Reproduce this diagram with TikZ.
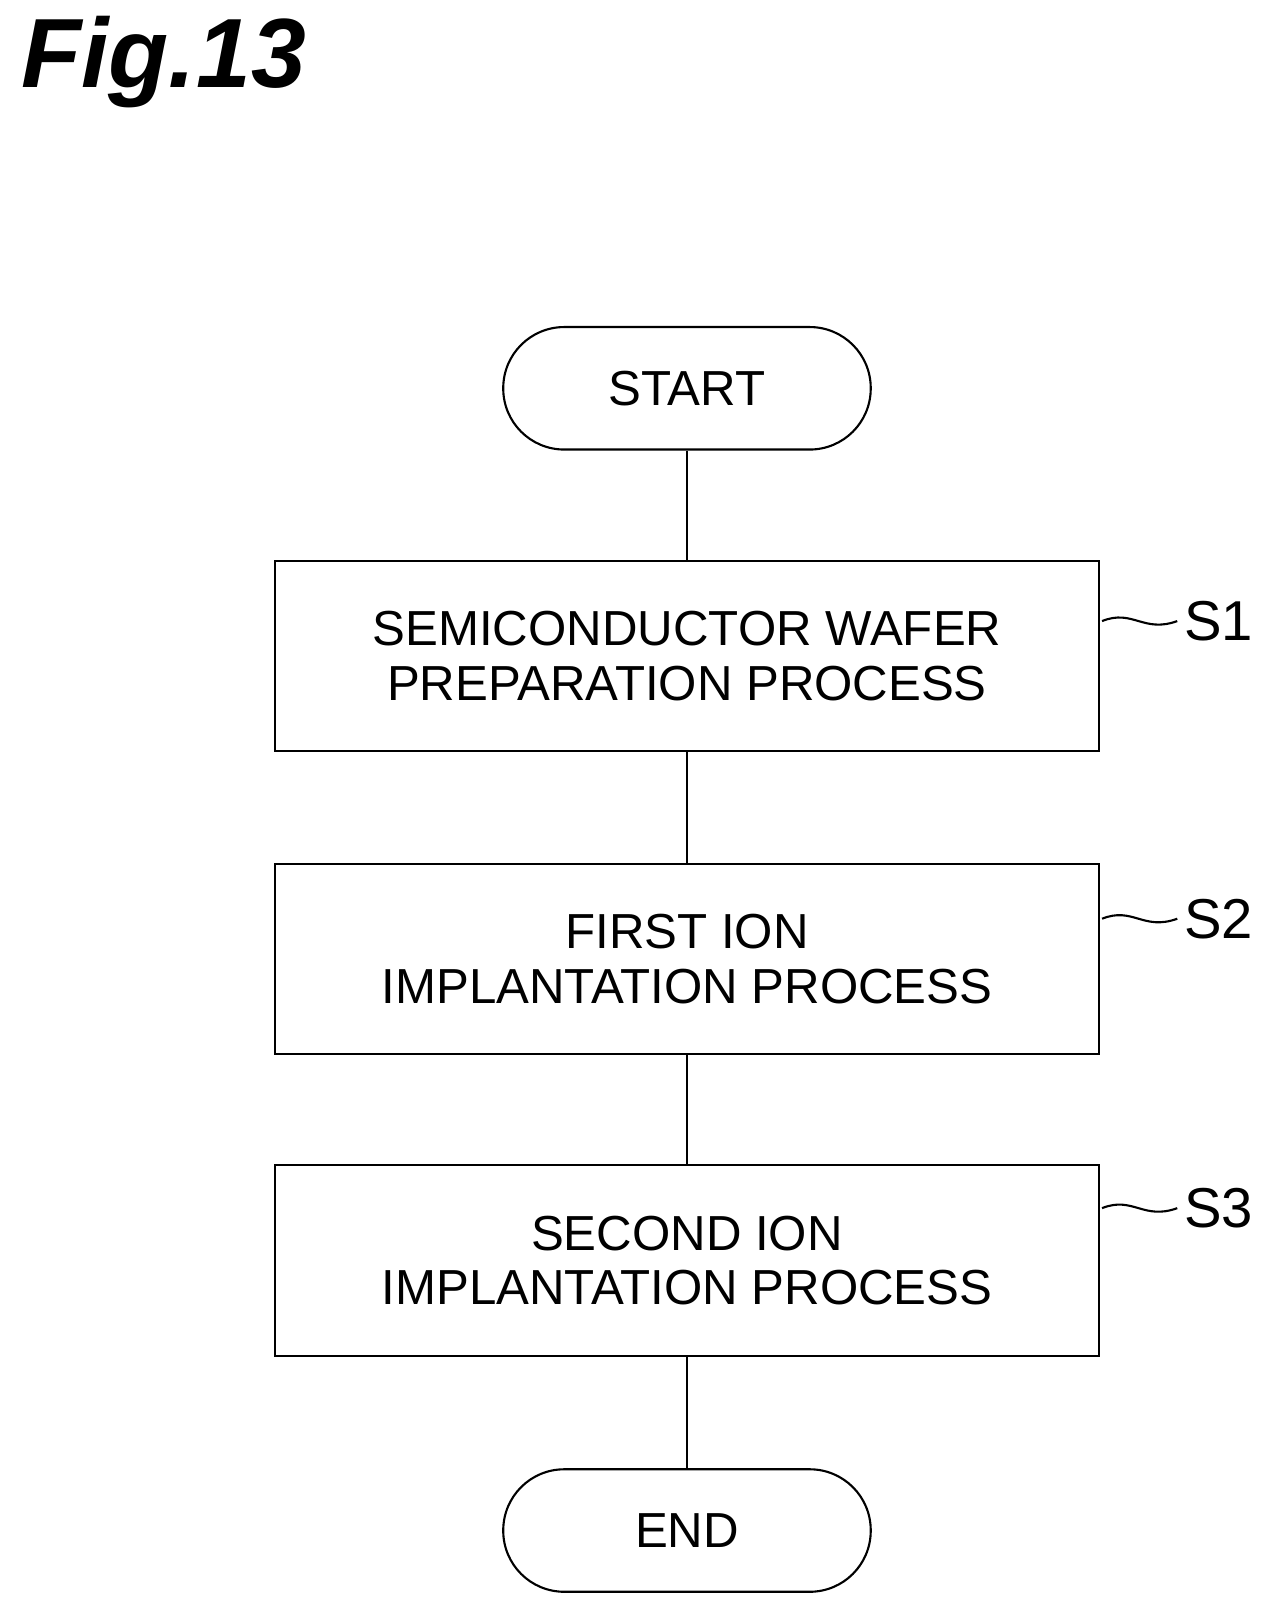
\documentclass[tikz,border=0pt]{standalone}
\usepackage{fontspec}
\setmainfont{Liberation Sans}
\usetikzlibrary{positioning}
\begin{document}
\begin{tikzpicture}[x=0.0206cm,y=-0.0206cm,-,line width=1.2pt]
\useasboundingbox (0,0) rectangle (1238,1569);

\tikzset{process/.style={draw,minimum width=16.48cm,minimum height=3.81cm,align=center,
  font=\fontsize{28}{31}\selectfont},
  term/.style={draw,rounded corners=1.22cm,minimum width=7.35cm,minimum height=2.45cm,
  font=\fontsize{28}{32}\selectfont},
  tag/.style={font=\fontsize{32}{36}\selectfont}}

\node[font=\fontsize{56}{60}\selectfont\bfseries\itshape,anchor=west] (fig) at (14,60) {Fig.13};

\node[term] (start) at (667,377) {START};
\node[process] (s1) at (667,637) {SEMICONDUCTOR WAFER\\PREPARATION PROCESS};
\node[process] (s2) at (667,931) {FIRST ION\\IMPLANTATION PROCESS};
\node[process] (s3) at (667,1224) {SECOND ION\\IMPLANTATION PROCESS};
\node[term] (end) at (667,1486) {END};

\draw (start) -- (s1);
\draw (s1) -- (s2);
\draw (s2) -- (s3);
\draw (s3) -- (end);

% step labels
\foreach \s/\y in {1/603,2/892,3/1173}{
  \node[tag,anchor=west] (t\s) at (1143,\y) {S\s};
  \draw (1070,\y) .. controls (1100,\y-12) and (1110,\y+12) .. (t\s.west);
}
\end{tikzpicture}
\end{document}
